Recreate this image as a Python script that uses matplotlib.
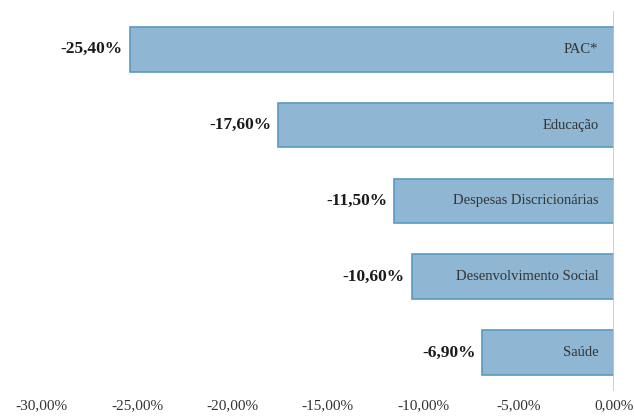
import numpy as np
import matplotlib.pyplot as plt

# dados
categorias = ["PAC*", "Educação", "Despesas Discricionárias", "Desenvolvimento Social", "Saúde"]
valores = [-25.4, -17.6, -11.5, -10.6, -6.9]
ticks = [-30, -25, -20, -15, -10, -5, 0]


def fmt_br(v):
    return f"{v:.2f}".replace(".", ",") + "%"


plt.rcParams['font.family'] = ['Liberation Serif', 'DejaVu Serif']

fig = plt.figure(figsize=(6.34, 4.17), dpi=100)
ax = fig.add_axes([0.066, 0.063, 0.902, 0.91])

y = np.arange(len(categorias))
ax.barh(y, valores, height=0.59, color="#8fb7d3", edgecolor="#5a9ac2", linewidth=1.2, zorder=2)
ax.axvline(0, color="#c8c8c8", linewidth=1.2, zorder=3)

for yi, v, nome in zip(y, valores, categorias):
    ax.text(v - 0.35, yi, fmt_br(v), ha="right", va="center", fontsize=12.5,
            fontweight="bold", color="#1a1a1a")
    ax.text(-0.8, yi, nome, ha="right", va="center", fontsize=10.5, color="#333333", zorder=4)

ax.set_xlim(-30, 0)
ax.set_ylim(len(categorias) - 0.5, -0.5)
ax.set_xticks(ticks)
ax.set_xticklabels([fmt_br(t) for t in ticks], fontsize=11, color="#333333")
ax.set_yticks([])
ax.tick_params(axis="x", length=0, pad=6)
for s in ax.spines.values():
    s.set_visible(False)

plt.savefig("out.png", dpi=100)
